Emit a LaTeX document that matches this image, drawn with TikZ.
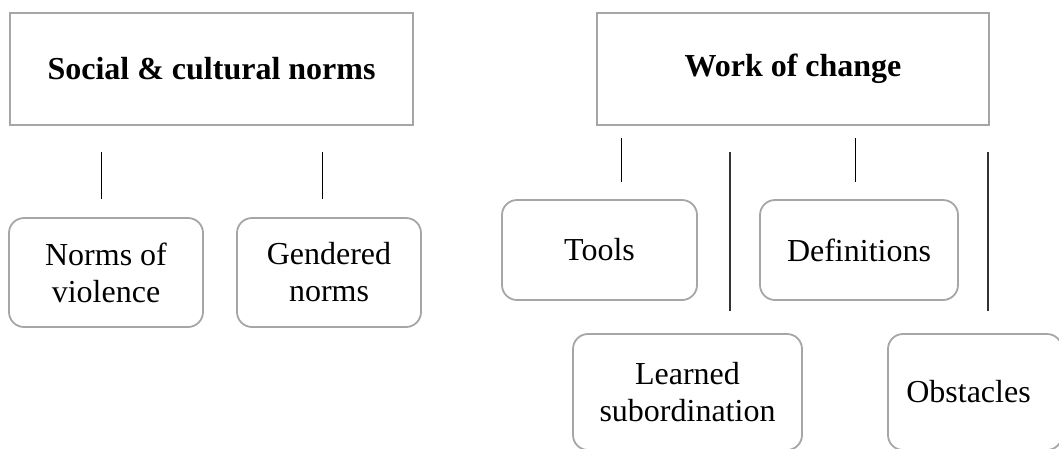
\documentclass[tikz,border=0pt]{standalone}
\usepackage{fontspec}
\setmainfont{Liberation Serif}
\definecolor{boxgray}{HTML}{A6A6A6}
\begin{document}
\begin{tikzpicture}[x=1pt,y=-1pt,
  headbox/.style={draw=boxgray,line width=1.8pt,inner sep=0pt,align=center,
    font=\fontsize{32}{37}\selectfont\bfseries},
  leafbox/.style={draw=boxgray,line width=1.8pt,rounded corners=15pt,inner sep=0pt,
    align=center,font=\fontsize{32}{37}\selectfont},
  shortline/.style={draw=black,line width=1pt},
  longline/.style={draw=black!80,line width=1.4pt}]
\useasboundingbox (0,0) rectangle (1059,448);
% header boxes
\node[headbox,minimum width=403pt,minimum height=112pt] (soc) at (211.5,69) {Social \& cultural norms};
\node[headbox,minimum width=392pt,minimum height=112pt] (work) at (793,69) {Work of change};
% leaf boxes
\node[leafbox,minimum width=194pt,minimum height=109pt] (nv) at (106,272.5) {Norms of\\violence};
\node[leafbox,minimum width=184pt,minimum height=109pt] (gn) at (329,272.5) {Gendered\\norms};
\node[leafbox,minimum width=195pt,minimum height=100pt] (tools) at (599.5,250) {Tools};
\node[leafbox,minimum width=198pt,minimum height=100pt] (defs) at (859,250) {Definitions};
\node[leafbox,minimum width=229pt,minimum height=116pt] (learned) at (687.5,392) {Learned\\subordination};
\node[leafbox,minimum width=174pt,minimum height=116pt] (obst) at (975,392) {Obstacles\hspace*{13pt}};
% connector end points
\coordinate (l1a) at (101,152); \coordinate (l1b) at (101,199);
\coordinate (l2a) at (322,152); \coordinate (l2b) at (322,199);
\coordinate (l3a) at (621,138); \coordinate (l3b) at (621,182);
\coordinate (l4a) at (730,152); \coordinate (l4b) at (730,311);
\coordinate (l5a) at (855,138); \coordinate (l5b) at (855,182);
\coordinate (l6a) at (988,152); \coordinate (l6b) at (988,311);
\draw[shortline] (l1a) -- (l1b);
\draw[shortline] (l2a) -- (l2b);
\draw[shortline] (l3a) -- (l3b);
\draw[longline] (l4a) -- (l4b);
\draw[shortline] (l5a) -- (l5b);
\draw[longline] (l6a) -- (l6b);
\end{tikzpicture}
\end{document}
